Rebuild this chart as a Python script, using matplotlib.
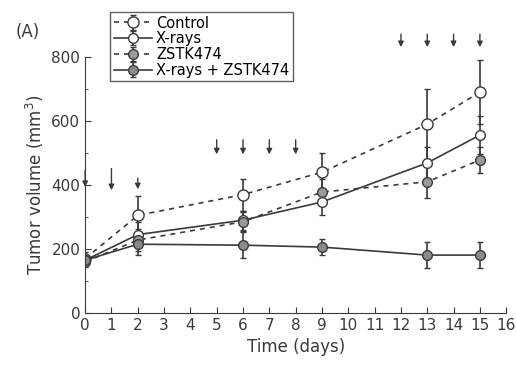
import matplotlib
matplotlib.use('Agg')
import matplotlib.pyplot as plt

days = [0, 2, 6, 9, 13, 15]
control = [170, 305, 370, 440, 590, 690]
control_err = [20, 60, 50, 60, 110, 100]
xrays = [165, 245, 290, 347, 469, 556]
xrays_err = [15, 40, 30, 40, 50, 60]
zstk = [160, 228, 285, 378, 410, 478]
zstk_err = [15, 35, 30, 40, 50, 40]
combo = [165, 215, 212, 206, 181, 181]
combo_err = [15, 35, 40, 25, 40, 40]

# treatment arrows: (day, top, bottom)
arrow_days = [0, 1, 2, 5, 6, 7, 8, 12, 13, 14, 15]
arrow_top = [455, 460, 430, 550, 550, 550, 550, 880, 880, 880, 880]
arrow_bot = [385, 375, 378, 487, 487, 487, 487, 822, 822, 822, 822]

col = '#3a3a3a'
fig = plt.figure(figsize=(5.16, 3.70), dpi=100)
ax = fig.add_axes([0.165, 0.154, 0.816, 0.692])

ax.errorbar(days, control, yerr=control_err, color=col, ls=(0, (3, 3)), lw=1.2,
            marker='o', ms=8, mfc='white', mec=col, capsize=2, label='Control')
ax.errorbar(days, xrays, yerr=xrays_err, color=col, ls='-', lw=1.2,
            marker='o', ms=7, mfc='white', mec=col, capsize=2, label='X-rays')
ax.errorbar(days, zstk, yerr=zstk_err, color=col, ls=(0, (3, 3)), lw=1.2,
            marker='o', ms=7, mfc='#9a9a9a', mec=col, capsize=2, label='ZSTK474')
ax.errorbar(days, combo, yerr=combo_err, color=col, ls='-', lw=1.2,
            marker='o', ms=7, mfc='#8a8a8a', mec=col, capsize=2, label='X-rays + ZSTK474')

for d, t, b in zip(arrow_days, arrow_top, arrow_bot):
    ax.annotate('', xy=(d, b), xytext=(d, t), annotation_clip=False,
                arrowprops=dict(arrowstyle='-|>', color=col, lw=1.0, mutation_scale=8))

ax.set_xlim(0, 16)
ax.set_ylim(0, 800)
ax.set_xticks(range(0, 17))
ax.set_yticks([0, 200, 400, 600, 800])
ax.set_yticks(range(0, 801, 100), minor=True)
ax.tick_params(direction='in', labelsize=11, colors=col, length=4)
ax.tick_params(which='minor', direction='in', length=2, colors=col)
ax.spines['top'].set_visible(False)
ax.spines['right'].set_visible(False)
ax.spines['left'].set_color(col)
ax.spines['bottom'].set_color(col)
ax.set_xlabel('Time (days)', fontsize=12, color=col)
ax.set_ylabel('Tumor volume (mm$^3$)', fontsize=12, color=col)

leg = ax.legend(loc='upper left', bbox_to_anchor=(0.059, 1.176), fontsize=10.5,
                frameon=True, fancybox=False, edgecolor=col, handlelength=2.6,
                borderpad=0.25, labelspacing=0.05, handletextpad=0.3,
                borderaxespad=0)
leg.get_frame().set_linewidth(1.0)

fig.text(0.03, 0.9, '(A)', fontsize=12, color=col)

fig.savefig('out.png', dpi=100)
